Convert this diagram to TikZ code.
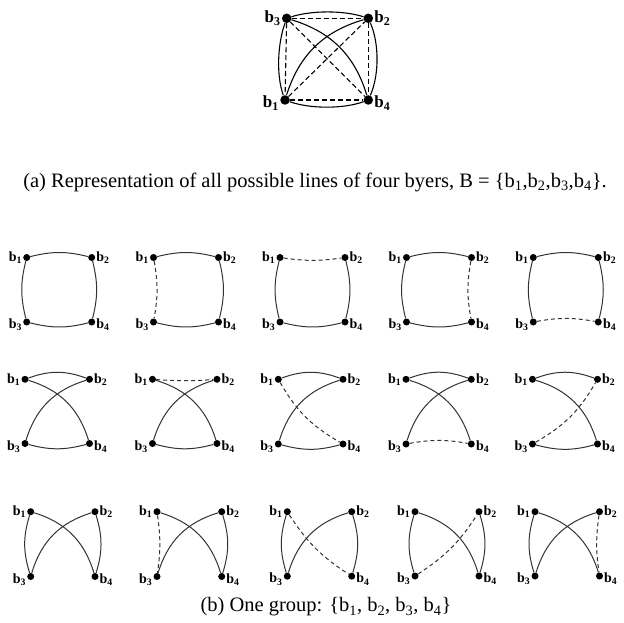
\documentclass[tikz,border=0pt]{standalone}
\usepackage{fontspec}
\setmainfont{Liberation Serif}
\newcommand\bsub[1]{\textbf{b\textsubscript{#1}}}
\newcommand\grp[5]{%
 \node[dot,label={[lab]left:\bsub{1}}] (#1a) at (#2,#3) {};
 \node[dot,label={[lab]right:\bsub{2}}] (#1b) at (#4,#3) {};
 \node[dot,label={[lab,yshift=-3pt]left:\bsub{3}}] (#1c) at (#2,#5) {};
 \node[dot,label={[lab,yshift=-3pt]right:\bsub{4}}] (#1d) at (#4,#5) {};
}
\begin{document}
\begin{tikzpicture}[x=1pt,y=-1pt,
  dot/.style={circle,fill=black,inner sep=0pt,minimum size=7pt},
  bigdot/.style={circle,fill=black,inner sep=0pt,minimum size=9.5pt},
  lab/.style={font=\fontsize{14}{16}\selectfont,inner sep=0.8pt},
  biglab/.style={font=\fontsize{17}{20}\selectfont,inner sep=1pt},
  ln/.style={draw=black!80,line width=1pt},
  dl/.style={draw=black!80,line width=1pt,dash pattern=on 4pt off 3pt},
  tl/.style={draw=black,line width=1.1pt},
  tdl/.style={draw=black,line width=1.1pt,dash pattern=on 5pt off 3pt},
  captext/.style={font=\fontsize{20.5}{24}\selectfont,inner sep=0pt}]
\useasboundingbox (0,0) rectangle (624,623);
% top figure
\node[bigdot,label={[biglab]left:\bsub{3}}] (t3) at (286.7,18.3) {};
\node[bigdot,label={[biglab]right:\bsub{2}}] (t2) at (368.3,18.3) {};
\node[bigdot,label={[biglab,yshift=-3pt]left:\bsub{1}}] (t1) at (285,100) {};
\node[bigdot,label={[biglab,yshift=-3pt]right:\bsub{4}}] (t4) at (368.3,100) {};
\draw[tl] (t3) .. controls +(25,-8) and +(-25,-8) .. (t2);
\draw[tl] (t1) .. controls +(25,9) and +(-25,9) .. (t4);
\draw[tl] (t3) .. controls +(-9,25) and +(-9,-25) .. (t1);
\draw[tl] (t2) .. controls +(11,25) and +(11,-25) .. (t4);
\draw[tl] (t3) to[bend left=28] (t4);
\draw[tl] (t1) to[bend left=28] (t2);
\draw[tdl] (t3) -- (t2);
\draw[tdl] (t1) -- (t4);
\draw[tdl] (t3) -- (t1);
\draw[tdl] (t2) -- (t4);
\draw[tdl] (t3) -- (t4);
\draw[tdl] (t1) -- (t2);
\node[captext] (capa) at (315,182) {(a) Representation of all possible lines of four byers, B = \{b\textsubscript{1},b\textsubscript{2},b\textsubscript{3},b\textsubscript{4}\}.};
% row 1
\grp{p}{26.7}{257.5}{91.7}{322}
\grp{q}{153.5}{257.5}{218.5}{322}
\grp{r}{280}{257.5}{345}{322}
\grp{s}{406.5}{257.5}{471.5}{322}
\grp{u}{533.3}{257.5}{598.3}{322}
\draw[ln] (pa) to[bend left=14] (pb); \draw[ln] (pc) to[bend right=14] (pd);
\draw[ln] (pa) to[bend right=14] (pc); \draw[ln] (pb) to[bend left=14] (pd);
\draw[ln] (qa) to[bend left=14] (qb); \draw[ln] (qc) to[bend right=14] (qd);
\draw[dl] (qa) to[bend left=10] (qc); \draw[ln] (qb) to[bend left=14] (qd);
\draw[dl] (ra) to[bend right=8] (rb); \draw[ln] (rc) to[bend right=14] (rd);
\draw[ln] (ra) to[bend right=14] (rc); \draw[ln] (rb) to[bend left=14] (rd);
\draw[ln] (sa) to[bend left=14] (sb); \draw[ln] (sc) to[bend right=14] (sd);
\draw[ln] (sa) to[bend right=14] (sc); \draw[dl] (sb) to[bend right=10] (sd);
\draw[ln] (ua) to[bend left=14] (ub); \draw[dl] (uc) to[bend left=10] (ud);
\draw[ln] (ua) to[bend right=14] (uc); \draw[ln] (ub) to[bend left=14] (ud);
% row 2
\grp{f}{25}{379.3}{89.5}{443.5}
\grp{g}{152.5}{379.3}{217}{443.5}
\grp{h}{278.3}{379.3}{343}{444}
\grp{k}{406}{379.3}{471.3}{444}
\grp{m}{532.5}{379.3}{597.5}{444}
\draw[ln] (fa) to[bend left=20] (fb); \draw[ln] (fc) to[bend right=15] (fd);
\draw[ln] (fa) to[bend left=28] (fd); \draw[ln] (fc) to[bend left=28] (fb);
\draw[dl] (ga) to[bend right=4] (gb); \draw[ln] (gc) to[bend right=15] (gd);
\draw[ln] (ga) to[bend left=28] (gd); \draw[ln] (gc) to[bend left=28] (gb);
\draw[ln] (ha) to[bend left=20] (hb); \draw[ln] (hc) to[bend right=15] (hd);
\draw[dl] (ha) to[bend right=15] (hd); \draw[ln] (hc) to[bend left=28] (hb);
\draw[ln] (ka) to[bend left=20] (kb); \draw[dl] (kc) to[bend left=10] (kd);
\draw[ln] (ka) to[bend left=28] (kd); \draw[ln] (kc) to[bend left=28] (kb);
\draw[ln] (ma) to[bend left=20] (mb); \draw[ln] (mc) to[bend right=15] (md);
\draw[ln] (ma) to[bend left=28] (md); \draw[dl] (mc) to[bend right=15] (mb);
% row 3
\grp{v}{30.7}{511.7}{95}{576.5}
\grp{w}{157}{511.7}{221.7}{576.5}
\grp{x}{287.3}{511.7}{351.7}{576.2}
\grp{y}{415}{511.7}{479}{576}
\grp{z}{535}{511.7}{599.5}{576}
\draw[ln] (va) to[bend right=17] (vc); \draw[ln] (vb) to[bend left=17] (vd);
\draw[ln] (va) to[bend left=28] (vd); \draw[ln] (vc) to[bend left=28] (vb);
\draw[dl] (wa) to[bend left=8] (wc); \draw[ln] (wb) to[bend left=17] (wd);
\draw[ln] (wa) to[bend left=28] (wd); \draw[ln] (wc) to[bend left=28] (wb);
\draw[ln] (xa) to[bend right=17] (xc); \draw[ln] (xb) to[bend left=17] (xd);
\draw[dl] (xa) to[bend right=12] (xd); \draw[ln] (xc) to[bend left=28] (xb);
\draw[ln] (ya) to[bend right=17] (yc); \draw[ln] (yb) to[bend left=17] (yd);
\draw[ln] (ya) to[bend left=28] (yd); \draw[dl] (yc) to[bend right=12] (yb);
\draw[ln] (za) to[bend right=17] (zc); \draw[dl] (zb) to[bend right=8] (zd);
\draw[ln] (za) to[bend left=28] (zd); \draw[ln] (zc) to[bend left=28] (zb);
\node[captext] (capb) at (326,607) {(b) One group: \{b\textsubscript{1}, b\textsubscript{2}, b\textsubscript{3}, b\textsubscript{4}\}};
\end{tikzpicture}
\end{document}
